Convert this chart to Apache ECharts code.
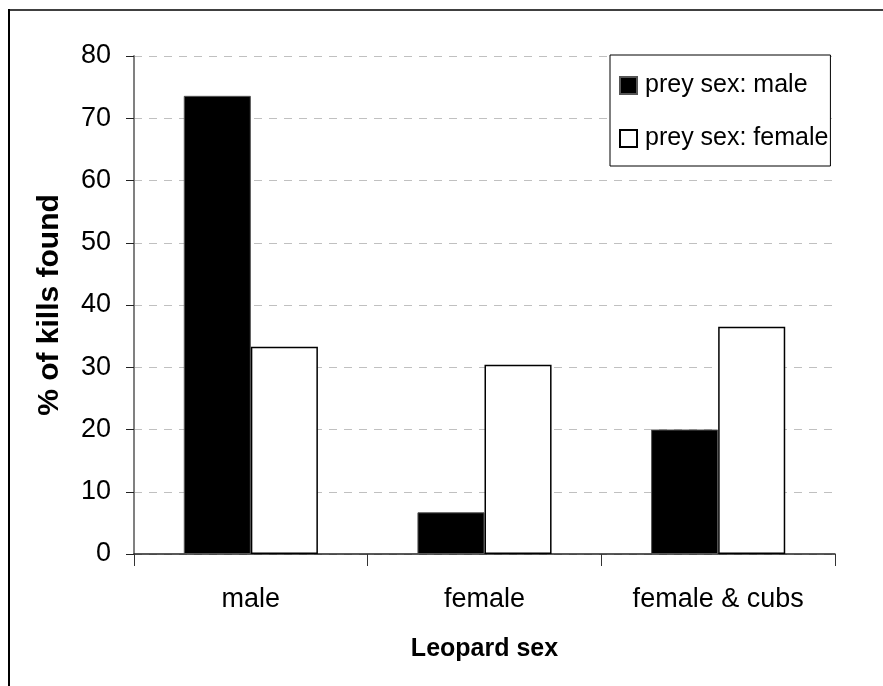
<!DOCTYPE html>
<html>
<head>
<meta charset="utf-8">
<script src="https://cdn.jsdelivr.net/npm/echarts@6/dist/echarts.min.js"></script>
<style>
html,body{margin:0;padding:0;background:#fff;}
#chart{width:883px;height:686px;}
</style>
</head>
<body>
<div id="chart"></div>
<script>
const categories = ['male', 'female', 'female & cubs'];
const preyMale = [73.6, 6.7, 20.0];
const preyFemale = [33.3, 30.4, 36.5];
const seriesNames = ['prey sex: male', 'prey sex: female'];
const yTicks = { min: 0, max: 80, interval: 10 };

const FONT = "'Liberation Sans', Arial, sans-serif";
const chart = echarts.init(document.getElementById('chart'), null, { renderer: 'canvas' });

chart.setOption({
  animation: false,
  backgroundColor: '#fff',
  grid: { left: 134, right: 48, top: 56, bottom: 132, containLabel: false },
  legend: {
    orient: 'vertical',
    left: 610,
    top: 55,
    width: 221,
    backgroundColor: '#fff',
    borderColor: '#000',
    borderWidth: 1,
    borderRadius: 0,
    padding: [18, 2, 15, 9],
    itemWidth: 17,
    itemHeight: 17,
    itemGap: 28,
    icon: 'rect',
    textStyle: { fontFamily: FONT, fontSize: 25, color: '#000', padding: [0, 0, 0, 3] },
    data: seriesNames
  },
  xAxis: {
    type: 'category',
    data: categories,
    boundaryGap: true,
    name: 'Leopard sex',
    nameLocation: 'middle',
    nameGap: 83,
    nameTextStyle: { fontFamily: FONT, fontSize: 25, fontWeight: 'bold', color: '#000' },
    axisLine: { show: true, lineStyle: { color: '#222', width: 1.5 } },
    axisTick: { show: true, length: 12, alignWithLabel: false, lineStyle: { color: '#333', width: 1 } },
    axisLabel: { fontFamily: FONT, fontSize: 27, color: '#000', margin: 32 },
    splitLine: { show: false }
  },
  yAxis: {
    type: 'value',
    min: yTicks.min,
    max: yTicks.max,
    interval: yTicks.interval,
    name: '% of kills found',
    nameLocation: 'middle',
    nameGap: 69,
    nameRotate: 90,
    nameTextStyle: { fontFamily: FONT, fontSize: 30, fontWeight: 'bold', color: '#000' },
    axisLine: { show: true, lineStyle: { color: '#808080', width: 2 } },
    axisTick: { show: true, length: 8, lineStyle: { color: '#222', width: 1 } },
    axisLabel: { fontFamily: FONT, fontSize: 27, color: '#000', margin: 23 },
    splitLine: { show: true, lineStyle: { color: '#c0c0c0', width: 1, type: [8, 7] } }
  },
  series: [
    {
      name: seriesNames[0],
      type: 'bar',
      data: preyMale,
      barGap: '0%',
      barCategoryGap: '42.6%',
      itemStyle: { color: '#000', borderColor: '#555', borderWidth: 1 }
    },
    {
      name: seriesNames[1],
      type: 'bar',
      data: preyFemale,
      barGap: '0%',
      barCategoryGap: '42.6%',
      itemStyle: { color: '#fff', borderColor: '#000', borderWidth: 1.5 }
    }
  ],
  graphic: [
    { type: 'line', shape: { x1: 9, y1: 10, x2: 883, y2: 10 }, style: { stroke: '#404040', lineWidth: 2 } },
    { type: 'line', shape: { x1: 9, y1: 9, x2: 9, y2: 686 }, style: { stroke: '#000', lineWidth: 2 } }
  ]
});
</script>
</body>
</html>
